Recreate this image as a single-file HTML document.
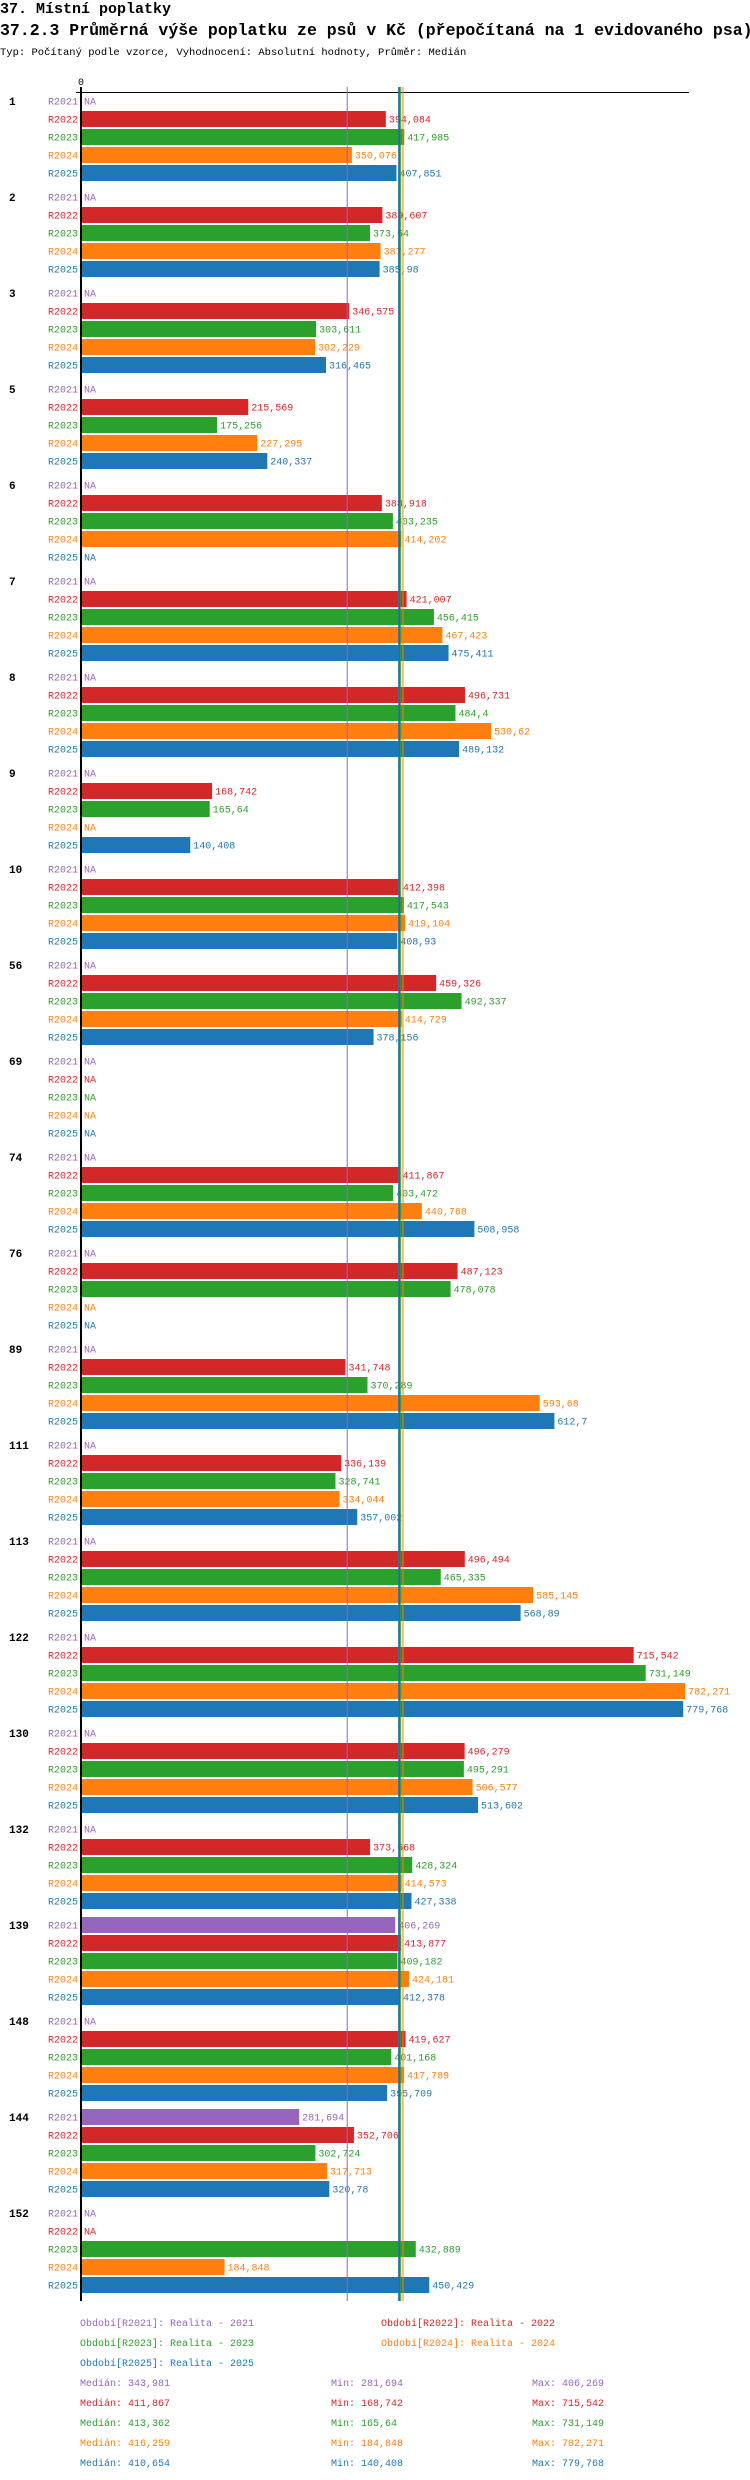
<!DOCTYPE html>
<html><head><meta charset="utf-8"><style>
body{margin:0;background:#fff;width:750px;height:2480px;overflow:hidden}
svg{display:block}
text{font-family:"Liberation Mono",monospace}
</style></head><body>
<svg id="c" width="750" height="2480" xmlns="http://www.w3.org/2000/svg">
<text x="0" y="13" font-size="15" font-weight="bold">37. Místní poplatky</text>
<text x="0" y="35" font-size="16.5" font-weight="bold">37.2.3 Průměrná výše poplatku ze psů v Kč (přepočítaná na 1 evidovaného psa)</text>
<text x="0" y="55" font-size="10.5">Typ: Počítaný podle vzorce, Vyhodnocení: Absolutní hodnoty, Průměr: Medián</text>
<text x="81" y="85" font-size="10" text-anchor="middle">0</text>
<line x1="76" y1="92.5" x2="689" y2="92.5" stroke="#000" stroke-width="1"/>
<g id="lines"></g><g id="bars"></g><g id="legend"></g>
</svg>
<script>
const categories=["1","2","3","5","6","7","8","9","10","56","69","74","76","89","111","113","122","130","132","139","148","144","152"];
const seriesNames=["R2021","R2022","R2023","R2024","R2025"];
const r2021=[null,null,null,null,null,null,null,null,null,null,null,null,null,null,null,null,null,null,null,406.269,null,281.694,null];
const r2022=[394.084,389.607,346.575,215.569,388.918,421.007,496.731,168.742,412.398,459.326,null,411.867,487.123,341.748,336.139,496.494,715.542,496.279,373.668,413.877,419.627,352.706,null];
const r2023=[417.985,373.54,303.611,175.256,403.235,456.415,484.4,165.64,417.543,492.337,null,403.472,478.078,370.289,328.741,465.335,731.149,495.291,428.324,409.182,401.168,302.724,432.889];
const r2024=[350.076,387.277,302.229,227.295,414.202,467.423,530.62,null,419.104,414.729,null,440.768,null,593.68,334.044,585.145,782.271,506.577,414.573,424.181,417.789,317.713,184.848];
const r2025=[407.851,385.98,316.465,240.337,null,475.411,489.132,140.408,408.93,378.156,null,508.958,null,612.7,357.002,568.89,779.768,513.602,427.338,412.378,395.709,320.78,450.429];
const medians=[343.981,411.867,413.362,416.259,410.654];
const mins=["281,694","168,742","165,64","184,848","140,408"];
const maxs=["406,269","715,542","731,149","782,271","779,768"];
const legendText=["Období[R2021]: Realita - 2021","Období[R2022]: Realita - 2022","Období[R2023]: Realita - 2023","Období[R2024]: Realita - 2024","Období[R2025]: Realita - 2025"];
const colors=["#9467bd","#d62728","#2ca02c","#ff7f0e","#1f77b4"];
const series=[r2021,r2022,r2023,r2024,r2025];
const NS="http://www.w3.org/2000/svg";
const X0=82,K=0.771;
const xs=v=>X0+v*K;
const rowY=(g,s)=>101+g*96+s*18;
const fmt=v=>String(v).replace('.',',');
function mk(parent,tag,attrs,txt){const e=document.createElementNS(NS,tag);for(const k in attrs)e.setAttribute(k,attrs[k]);if(txt!=null)e.textContent=txt;parent.appendChild(e);return e;}
const bars=document.getElementById('bars'),lines=document.getElementById('lines'),leg=document.getElementById('legend');
categories.forEach((c,g)=>{
  const gl=mk(bars,'text',{x:9,y:rowY(g,0)+4,'font-size':11,'font-weight':'bold'},c);
  
  
  series.forEach((arr,s)=>{
    const y=rowY(g,s),v=arr[g];
    const sl=mk(bars,'text',{x:78,y:y+3.5,'font-size':10,'text-anchor':'end',fill:colors[s]},seriesNames[s]);
    
    
    if(v==null){
      const na=mk(bars,'text',{x:84,y:y+3.5,'font-size':10,fill:colors[s]},'NA');
      
      
    }else{
      const r=mk(bars,'rect',{x:X0,y:y-8,width:xs(v)-X0,height:16,fill:colors[s]});
      
      
      const vl=mk(leg,'text',{x:xs(v)+3,y:y+3.5,'font-size':10,fill:colors[s]},fmt(v));
      
      
    }
  });
});
const lastY=rowY(categories.length-1,4)+16;
medians.forEach((m,s)=>{
  const l=mk(leg,'line',{x1:xs(m),x2:xs(m),y1:87,y2:lastY,stroke:colors[s],'stroke-width':1});
  
  
});
const ax=mk(leg,'line',{x1:81,x2:81,y1:87,y2:lastY,stroke:'#000','stroke-width':2});


legendText.forEach((t,s)=>{
  const e=mk(leg,'text',{x:s%2?381:80,y:2326+Math.floor(s/2)*20,'font-size':10,fill:colors[s]},t);
  
  
});
medians.forEach((m,s)=>{
  const y=2386+s*20;
  const a=mk(leg,'text',{x:80,y:y,'font-size':10,fill:colors[s]},'Medián: '+fmt(m));
  
  
  const b=mk(leg,'text',{x:331,y:y,'font-size':10,fill:colors[s]},'Min: '+mins[s]);
  
  
  const d=mk(leg,'text',{x:532,y:y,'font-size':10,fill:colors[s]},'Max: '+maxs[s]);
  
  
});
</script>
</body></html>
